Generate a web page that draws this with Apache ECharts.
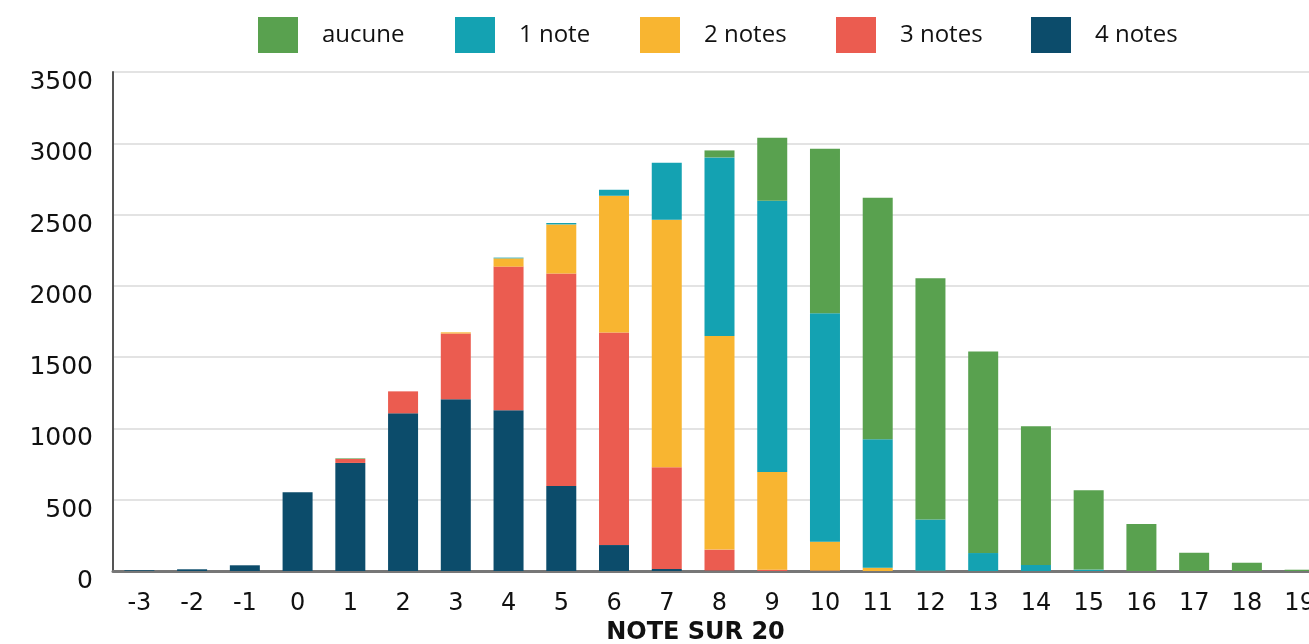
<!DOCTYPE html>
<html>
<head>
<meta charset="utf-8">
<script src="https://cdn.jsdelivr.net/npm/echarts@6/dist/echarts.min.js"></script>
<style>
html,body{margin:0;padding:0;background:#fff;}
#chart{width:1309px;height:644px;}
</style>
</head>
<body>
<div id="chart"></div>
<script>
const categories = ['-3','-2','-1','0','1','2','3','4','5','6','7','8','9','10','11','12','13','14','15','16','17','18','19'];
const seriesNames = ['aucune','1 note','2 notes','3 notes','4 notes'];
const aucune  = [0,0,0,0,4,0,0,0,0,0,0,49,441,1155,1694,1692,1414,973,557,330,128,58,9];
const note1   = [0,0,0,0,0,0,0,5,10,42,399,1253,1902,1601,901,359,126,42,10,0,0,0,0];
const notes2  = [0,0,0,0,0,0,8,58,345,959,1736,1498,686,203,23,2,0,0,0,0,0,0,0];
const notes3  = [0,0,0,0,28,154,462,1008,1489,1491,714,147,9,3,0,0,0,0,0,0,0,0,0];
const notes4  = [5,12,40,553,758,1106,1204,1127,597,182,14,3,0,0,0,0,0,0,0,0,0,0,0];
const yTicks = [0,500,1000,1500,2000,2500,3000,3500];

const colors = {'aucune':'#59A14F','1 note':'#14A2B2','2 notes':'#F8B531','3 notes':'#EB5C50','4 notes':'#0C4C6B'};
const legendLeft = [258,455,640,836,1031];

const chart = echarts.init(document.getElementById('chart'), null, {renderer:'canvas'});

function mk(name, data){
  return {name:name, type:'bar', stack:'total', data:data, barWidth:30,
    itemStyle:{color:colors[name]}, emphasis:{disabled:true}};
}

const option = {
  animation:false,
  legend: seriesNames.map((n,i)=>({
    data:[n], left:legendLeft[i], top:13, itemWidth:40, itemHeight:36, itemGap:0, padding:0,
    icon:'rect', selectedMode:false,
    textStyle:{fontFamily:'Open Sans', fontSize:24, color:'#111', lineHeight:44, verticalAlign:'middle', padding:[0,0,0,19]}
  })),
  grid:{left:113, right:-17, top:72, bottom:73, containLabel:false, outerBoundsMode:'none'},
  xAxis:{
    type:'category', data:categories,
    axisLine:{show:true, lineStyle:{color:'#777', width:3}},
    axisTick:{show:false},
    axisLabel:{fontFamily:'DejaVu Sans', fontSize:24, color:'#111', margin:21, interval:0},
    name:'NOTE SUR 20', nameLocation:'middle', nameGap:41,
    nameTextStyle:{fontFamily:'DejaVu Sans', fontWeight:'bold', fontSize:24, color:'#111', padding:[0,48,0,0]}
  },
  yAxis:{
    type:'value', min:yTicks[0], max:yTicks[yTicks.length-1], interval:500,
    axisLine:{show:true, lineStyle:{color:'#555', width:2}},
    axisTick:{show:false},
    axisLabel:{fontFamily:'DejaVu Sans', fontSize:25, color:'#111', margin:20, verticalAlign:'top', lineHeight:25, padding:[-2,0,0,0],
      formatter:function(v){return String(v);}},
    splitLine:{show:true, lineStyle:{color:'#e3e3e3', width:2}}
  },
  series:[
    mk('4 notes', notes4),
    mk('3 notes', notes3),
    mk('2 notes', notes2),
    mk('1 note', note1),
    mk('aucune', aucune)
  ]
};
chart.setOption(option);
</script>
</body>
</html>
